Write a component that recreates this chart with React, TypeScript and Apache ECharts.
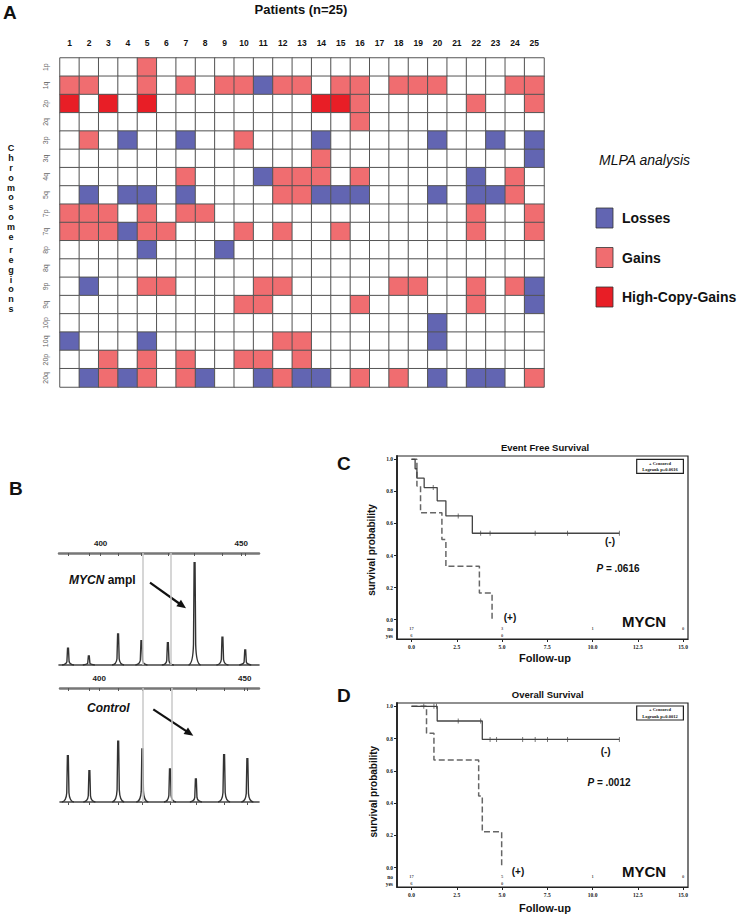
import React, { useEffect, useRef } from "react";
import * as echarts from "echarts";

// ---------- Panel A: MLPA copy-number heatmap ----------
const patients = ["1","2","3","4","5","6","7","8","9","10","11","12","13","14","15","16","17","18","19","20","21","22","23","24","25"];
const regions = ["1p","1q","2p","2q","3p","3q","4q","5q","7p","7q","8p","8q","9p","9q","10p","10q","20p","20q"];
// 0 = normal, 1 = loss, 2 = gain, 3 = high-copy gain (one string per region, one digit per patient)
const cnvRows = [
  "0000200000000000000000000",
  "2200202022122022022200022",
  "3030300000000332000002002",
  "0000000000000002000000000",
  "0201001002000100000100101",
  "0000000000000200000000001",
  "0000002000122202000001020",
  "0101101000022111000101120",
  "2220202200000000000002002",
  "2221220002020020000002002",
  "0000100010000000000000000",
  "0000000000000000000000000",
  "0100220000220000022002021",
  "0000000002200002000002001",
  "0000000000000000000100000",
  "1000100000022000000100000",
  "0020202002202000000000000",
  "0121202100121102020101102",
];
const statusLabels = ["Losses", "Gains", "High-Copy-Gains"];

// ---------- Panel B: electropherogram peaks ----------
const amplPeakPos = [388.4, 395.8, 406.2, 414.5, 423.9, 433.4, 443.3, 451.4];
const amplPeakHeight = [16.7, 9, 31, 24.3, 22.3, 102.3, 27.7, 15];
const ctrlPeakPos = [389.2, 396.6, 406.5, 414.8, 424.3, 433.2, 442.9, 450.9];
const ctrlPeakHeight = [46.3, 31.3, 60.7, 53, 33, 23, 47.3, 43.3];
const sizeLabels = [400, 450];
const refLines = [415, 425];

// ---------- Panels C / D: Kaplan-Meier ----------
const kmTicksX = [0, 2.5, 5, 7.5, 10, 12.5, 15];
const kmTicksY = [0, 0.2, 0.4, 0.6, 0.8, 1.0];
const efsNo = [[0, 1], [0.2, 0.941], [0.3, 0.882], [0.7, 0.824], [1.42, 0.741], [1.9, 0.647], [3.36, 0.539], [11.48, 0.539]];
const efsYes = [[0, 1], [0.3, 0.833], [0.5, 0.667], [1.68, 0.5], [1.9, 0.333], [3.75, 0.167], [4.45, 0]];
const efsNoCensored = [[1.2, 0.824], [2.58, 0.647], [3.82, 0.539], [4.34, 0.539], [6.83, 0.539], [8.62, 0.539], [11.48, 0.539]];
const osNo = [[0, 1], [1.42, 0.909], [3.91, 0.795], [11.48, 0.795]];
const osYes = [[0, 1], [0.83, 0.833], [1.24, 0.667], [3.71, 0.444], [3.91, 0.222], [4.98, 0]];
const osNoCensored = [[0.68, 1], [1.24, 1], [1.38, 1], [2.58, 0.909], [3.82, 0.909], [4.34, 0.795], [4.7, 0.795], [6.14, 0.795], [6.83, 0.795], [7.51, 0.795], [8.62, 0.795], [11.48, 0.795]];
const riskTimes = [0, 5, 10, 15];
const efsRiskNo = [17, 3, 1, 0];
const efsRiskYes = [6, 0];
const osRiskNo = [17, 5, 1, 0];
const osRiskYes = [6, 0];
const riskRowNo = -0.055;
const riskRowYes = -0.1;

const BLUE = "#6265b2";
const PINK = "#f06d70";
const RED = "#e81e26";
const statusColors = [BLUE, PINK, RED];

function arrow(x1: number, y1: number, x2: number, y2: number) {
  const dx = x2 - x1, dy = y2 - y1;
  const L = Math.sqrt(dx * dx + dy * dy);
  const ux = dx / L, uy = dy / L;
  const bx = x2 - ux * 9, by = y2 - uy * 9;
  const px = -uy, py = ux;
  return [
    { type: "line", silent: true, shape: { x1, y1, x2: bx + ux * 2, y2: by + uy * 2 }, style: { stroke: "#111", lineWidth: 2.2 } },
    { type: "polygon", silent: true, shape: { points: [[x2, y2], [bx + px * 4, by + py * 4], [bx - px * 4, by - py * 4]] }, style: { fill: "#111" } },
  ];
}

function txt(text: string, x: number, y: number, font: string, align = "center", extra: any = {}) {
  return { type: "text", silent: true, style: { text, x, y, font, textAlign: align, textVerticalAlign: "middle", fill: "#111", ...extra } };
}

function peakRender(params: any, api: any) {
  const x = api.value(0), h = api.value(1);
  const top = api.coord([x, h]);
  const base = api.coord([x, 0]);
  const cx = top[0], ty = top[1], by = base[1];
  const hh = by - ty;
  const d = `M${cx - 6},${by} Q${cx - 1.7},${by - 0.6} ${cx - 1.1},${by - hh * 0.2} L${cx - 0.45},${ty} L${cx + 0.45},${ty} L${cx + 1.1},${by - hh * 0.2} Q${cx + 1.7},${by - 0.6} ${cx + 6},${by}`;
  return { type: "path", shape: { pathData: d }, style: { fill: "none", stroke: "#333", lineWidth: 1.4 } };
}

function kmAxes(gridIndex: number) {
  const serif = { fontFamily: "Liberation Serif", fontWeight: "bold", fontSize: 5.5, color: "#222" };
  const x = {
    type: "value", gridIndex, min: -0.8, max: 15.27,
    axisLine: { show: true, onZero: false, lineStyle: { color: "#222", width: 1.2 } },
    axisTick: { show: true, customValues: kmTicksX, length: 3, lineStyle: { color: "#222" } },
    axisLabel: { customValues: kmTicksX, formatter: (v: number) => v.toFixed(1), margin: 5, ...serif },
    splitLine: { show: false },
  };
  const y = {
    type: "value", gridIndex, min: -0.12, max: 1.0205,
    axisLine: { show: true, onZero: false, lineStyle: { color: "#222", width: 1.8 } },
    axisTick: { show: true, customValues: kmTicksY, length: 3, lineStyle: { color: "#222" } },
    axisLabel: {
      customValues: [riskRowYes, riskRowNo, ...kmTicksY],
      formatter: (v: number) => (v < -0.08 ? "yes" : v < -0.01 ? "no" : v.toFixed(1)),
      margin: 4, ...serif,
    },
    splitLine: { show: false },
  };
  return { x, y };
}

function kmSeries(xi: number, yi: number, no: number[][], yes: number[][], cens: number[][], riskNo: number[], riskYes: number[]) {
  const riskData: any[] = [];
  riskNo.forEach((v, i) => riskData.push([riskTimes[i], riskRowNo, String(v)]));
  riskYes.forEach((v, i) => riskData.push([riskTimes[i], riskRowYes, String(v)]));
  return [
    { type: "line", xAxisIndex: xi, yAxisIndex: yi, step: "end", data: yes, symbol: "none", lineStyle: { color: "#666", width: 1.5, type: [6, 3] }, z: 3 },
    { type: "line", xAxisIndex: xi, yAxisIndex: yi, step: "end", data: no, symbol: "none", lineStyle: { color: "#444", width: 1.3 }, z: 4 },
    { type: "scatter", xAxisIndex: xi, yAxisIndex: yi, data: cens, symbol: "rect", symbolSize: [0.9, 5], itemStyle: { color: "#444" }, z: 5 },
    {
      type: "scatter", xAxisIndex: xi, yAxisIndex: yi, data: riskData, symbolSize: 0,
      label: { show: true, position: "inside", formatter: (p: any) => p.value[2], fontFamily: "Liberation Serif", fontWeight: "bold", fontSize: 4.5, color: "#222" },
    },
  ];
}

export default function App() {
  const ref = useRef<HTMLDivElement>(null);
  useEffect(() => {
    document.body.style.margin = "0";
    const chart = echarts.init(ref.current!, null, { renderer: "svg" });

    const heat: any[] = [];
    cnvRows.forEach((row, r) => {
      for (let c = 0; c < patients.length; c++) heat.push([c, r, Number(row[c])]);
    });

    const C = kmAxes(3);
    const D = kmAxes(4);

    const hiddenY = (gridIndex: number, max: number) => ({ type: "value", gridIndex, min: 0, max, show: false });
    const sizeAxis = (gridIndex: number, min: number, max: number, position: string, labels: boolean, ticks: number[] | null, color: string, width: number) => ({
      type: "value", gridIndex, min, max, position,
      axisLine: { show: true, onZero: false, lineStyle: { color, width } },
      axisTick: ticks ? { show: true, customValues: ticks, length: 3, inside: position === "top", lineStyle: { color: "#555", width: 1 } } : { show: false },
      axisLabel: labels ? { customValues: sizeLabels, fontFamily: "Arial", fontWeight: "bold", fontSize: 8, color: "#222", margin: 6 } : { show: false },
      splitLine: { show: false },
    });

    const legendY = [218, 257.5, 297];
    const legendGraphics: any[] = [];
    statusLabels.forEach((lab, i) => {
      legendGraphics.push({ type: "rect", silent: true, shape: { x: 596, y: legendY[i] - 10, width: 17, height: 20 }, style: { fill: statusColors[i], stroke: "#333", lineWidth: 0.8 } });
      legendGraphics.push(txt(lab, 622, legendY[i], "bold 14px Arial", "left"));
    });

    const vertical = (s: string) => s.split("").join("\n");

    const option: any = {
      animation: false,
      backgroundColor: "#fff",
      grid: [
        { left: 60, top: 58, width: 484, height: 329 },
        { left: 59, top: 553, width: 200, height: 112 },
        { left: 60, top: 688, width: 199, height: 114 },
        { left: 397, top: 456, width: 291, height: 183, show: true, borderColor: "#222", borderWidth: 1.2 },
        { left: 397, top: 703, width: 291, height: 184, show: true, borderColor: "#222", borderWidth: 1.2 },
      ],
      xAxis: [
        {
          type: "category", gridIndex: 0, data: patients, position: "top",
          axisLine: { show: false }, axisTick: { show: false },
          axisLabel: { fontFamily: "Arial", fontWeight: "bold", fontSize: 8.5, color: "#111", margin: 11 },
        },
        sizeAxis(1, 385.2, 456.3, "top", true, [...amplPeakPos, ...sizeLabels], "#777", 2.5),
        sizeAxis(1, 385.2, 456.3, "bottom", false, null, "#444", 1.6),
        sizeAxis(2, 386.5, 454.9, "top", true, [...ctrlPeakPos, ...sizeLabels], "#777", 2.5),
        sizeAxis(2, 386.5, 454.9, "bottom", false, ctrlPeakPos, "#444", 1.6),
        C.x,
        D.x,
      ],
      yAxis: [
        {
          type: "category", gridIndex: 0, data: regions, inverse: true,
          axisLine: { show: false }, axisTick: { show: false },
          axisLabel: { rotate: 90, fontFamily: "Arial", fontSize: 7, color: "#666", margin: 15, align: "center", verticalAlign: "middle" },
        },
        hiddenY(1, 112),
        hiddenY(2, 114),
        C.y,
        D.y,
      ],
      visualMap: {
        show: false, type: "piecewise", seriesIndex: 0, dimension: 2,
        pieces: [
          { value: 0, color: "#ffffff" },
          { value: 1, color: BLUE },
          { value: 2, color: PINK },
          { value: 3, color: RED },
        ],
      },
      series: [
        { type: "heatmap", xAxisIndex: 0, yAxisIndex: 0, data: heat, itemStyle: { borderColor: "#555", borderWidth: 1 }, emphasis: { disabled: true } },
        { type: "custom", xAxisIndex: 1, yAxisIndex: 1, data: amplPeakPos.map((p, i) => [p, amplPeakHeight[i]]), renderItem: peakRender, z: 4 },
        { type: "custom", xAxisIndex: 3, yAxisIndex: 2, data: ctrlPeakPos.map((p, i) => [p, ctrlPeakHeight[i]]), renderItem: peakRender, z: 4 },
        { type: "line", xAxisIndex: 1, yAxisIndex: 1, data: [], z: 1, markLine: { silent: true, symbol: "none", label: { show: false }, lineStyle: { color: "#c8c8c8", width: 1.5, type: "solid" }, data: refLines.map((v) => ({ xAxis: v })) } },
        { type: "line", xAxisIndex: 3, yAxisIndex: 2, data: [], z: 1, markLine: { silent: true, symbol: "none", label: { show: false }, lineStyle: { color: "#c8c8c8", width: 1.5, type: "solid" }, data: refLines.map((v) => ({ xAxis: v })) } },
        ...kmSeries(5, 3, efsNo, efsYes, efsNoCensored, efsRiskNo, efsRiskYes),
        ...kmSeries(6, 4, osNo, osYes, osNoCensored, osRiskNo, osRiskYes),
      ],
      graphic: [
        // Panel A
        txt("A", 3, 12, "bold 19px Arial", "left"),
        txt("Patients (n=25)", 301, 9, "bold 13px Arial"),
        { type: "text", silent: true, style: { text: vertical("Chromosome"), x: 11, y: 192.5, font: "bold 9px Arial", lineHeight: 9.9, textAlign: "center", textVerticalAlign: "middle", fill: "#111" } },
        { type: "text", silent: true, style: { text: vertical("regions"), x: 11, y: 279.5, font: "bold 9px Arial", lineHeight: 9.9, textAlign: "center", textVerticalAlign: "middle", fill: "#111" } },
        txt("MLPA analysis", 599, 160, "italic 14px Arial", "left"),
        ...legendGraphics,
        // Panel B
        txt("B", 9, 488, "bold 19px Arial", "left"),
        {
          type: "text", silent: true,
          style: {
            text: "{i|MYCN} {b|ampl}", x: 69, y: 580, textAlign: "left", textVerticalAlign: "middle",
            rich: { i: { font: "italic bold 12px Arial", fill: "#111" }, b: { font: "bold 12px Arial", fill: "#111" } },
          },
        },
        txt("Control", 87, 708, "italic bold 12px Arial", "left"),
        ...arrow(150, 582.7, 186, 608.3),
        ...arrow(153.3, 709.3, 193.3, 735.7),
        // Panel C
        txt("C", 337, 463, "bold 19px Arial", "left"),
        txt("Event Free Survival", 545, 447, "bold 9.5px Arial"),
        txt("survival probability", 371.5, 550, "bold 10px Arial", "center", {}),
        txt("Follow-up", 545, 658, "bold 11px Arial"),
        { type: "rect", silent: true, shape: { x: 636.7, y: 459.3, width: 46.7, height: 14 }, style: { fill: "#fff", stroke: "#222", lineWidth: 1.2 }, z: 10 },
        { ...txt("+ Censored", 660, 463, "bold 4.5px 'Liberation Serif'"), z: 11 },
        { ...txt("Logrank p=0.0616", 660, 469.5, "bold 4.5px 'Liberation Serif'"), z: 11 },
        txt("(-)", 610, 541.7, "bold 10px Arial"),
        { type: "text", silent: true, style: { text: "{i|P} = .0616", x: 618, y: 568.3, textAlign: "center", textVerticalAlign: "middle", font: "bold 10px Arial", fill: "#111", rich: { i: { font: "italic bold 10px Arial", fill: "#111" } } } },
        txt("(+)", 510, 617.7, "bold 10px Arial"),
        txt("MYCN", 644, 621.7, "bold 15px Arial"),
        // Panel D
        txt("D", 337, 695, "bold 19px Arial", "left"),
        txt("Overall Survival", 547.7, 694, "bold 9.5px Arial"),
        txt("survival probability", 373, 791.7, "bold 10px Arial", "center", {}),
        txt("Follow-up", 545, 908.3, "bold 11px Arial"),
        { type: "rect", silent: true, shape: { x: 636.7, y: 706, width: 46.7, height: 14 }, style: { fill: "#fff", stroke: "#222", lineWidth: 1.2 }, z: 10 },
        { ...txt("+ Censored", 660, 709.7, "bold 4.5px 'Liberation Serif'"), z: 11 },
        { ...txt("Logrank p=0.0012", 660, 716.2, "bold 4.5px 'Liberation Serif'"), z: 11 },
        txt("(-)", 605.7, 751.7, "bold 10px Arial"),
        { type: "text", silent: true, style: { text: "{i|P} = .0012", x: 609, y: 782.7, textAlign: "center", textVerticalAlign: "middle", font: "bold 10px Arial", fill: "#111", rich: { i: { font: "italic bold 10px Arial", fill: "#111" } } } },
        txt("(+)", 518, 871, "bold 10px Arial"),
        txt("MYCN", 644, 871.7, "bold 15px Arial"),
      ],
    };
    // rotate y-axis names
    option.graphic.forEach((g: any) => {
      if (g.style && g.style.text === "survival probability") {
        g.rotation = Math.PI / 2;
        g.x = g.style.x; g.y = g.style.y;
        g.style.x = 0; g.style.y = 0;
      }
    });
    chart.setOption(option);
    return () => chart.dispose();
  }, []);
  return <div ref={ref} style={{ width: 745, height: 916 }} />;
}
